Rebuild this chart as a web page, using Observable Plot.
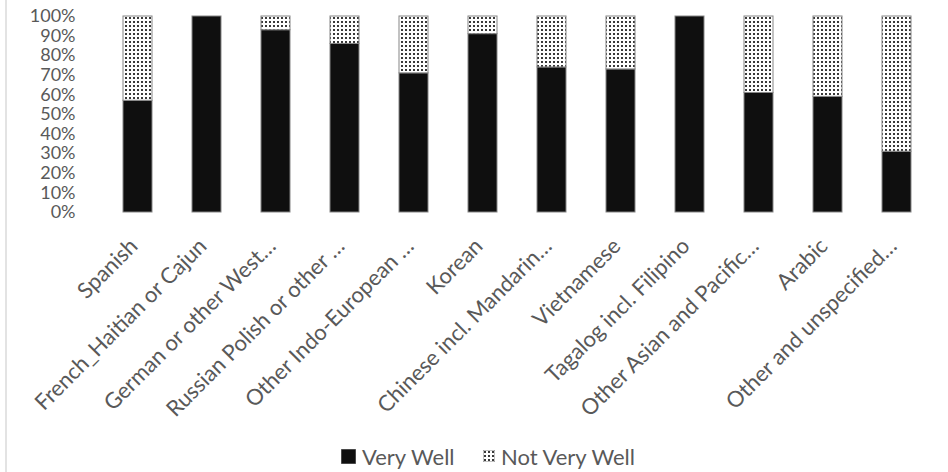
<!DOCTYPE html>
<html>
<head>
<meta charset="utf-8">
<script src="https://cdn.jsdelivr.net/npm/d3@7"></script>
<script src="https://cdn.jsdelivr.net/npm/@observablehq/plot@0.6"></script>
<style>
  html, body { margin: 0; padding: 0; background: #fff; }
  #wrap { position: relative; width: 948px; height: 472px; overflow: hidden; font-family: Lato, sans-serif; }
  #frame { position: absolute; left: 5px; top: 0; width: 2px; height: 472px; background: #e3e3e3; }
  #legend { position: absolute; top: 444px; left: 0; width: 948px; height: 26px; color: #595959; font-size: 22px; }
  #legend .item { position: absolute; top: 0; display: flex; align-items: center; height: 24px; }
  #legend svg { margin-right: 6px; }
</style>
</head>
<body>
<div id="wrap">
  <div id="frame"></div>
  <div id="chart"></div>
  <div id="legend"></div>
</div>
<script>
const categories = [
  "Spanish",
  "French_Haitian or Cajun",
  "German or other West…",
  "Russian Polish or other …",
  "Other Indo-European …",
  "Korean",
  "Chinese incl. Mandarin…",
  "Vietnamese",
  "Tagalog incl. Filipino",
  "Other Asian and Pacific…",
  "Arabic",
  "Other and unspecified…"
];
const veryWell    = [57, 100, 93, 86, 71, 91, 74, 73, 100, 61, 59, 31];
const notVeryWell = [43,   0,  7, 14, 29,  9, 26, 27,   0, 39, 41, 69];
const seriesNames = ["Very Well", "Not Very Well"];
const yTicks = [0, 0.1, 0.2, 0.3, 0.4, 0.5, 0.6, 0.7, 0.8, 0.9, 1];

const rows = categories.flatMap((c, i) => [
  {category: c, series: seriesNames[0], value: veryWell[i] / 100},
  {category: c, series: seriesNames[1], value: notVeryWell[i] / 100}
]);

const textColor = "#595959";

const svg = Plot.plot({
  width: 948,
  height: 436,
  marginTop: 16,
  marginBottom: 224,
  marginLeft: 99,
  marginRight: 14,
  style: {fontFamily: "Lato, sans-serif", fontSize: "20px", color: textColor, background: "transparent"},
  x: {domain: categories, paddingInner: 0.58, paddingOuter: 0.29, axis: null},
  y: {domain: [0, 1], axis: null},
  color: {domain: seriesNames, range: ["#0f0f0f", "url(#dots)"]},
  marks: [
    Plot.gridY(yTicks, {stroke: "#d9d9d9", strokeOpacity: 1, strokeWidth: 1.5, x1: 97, x2: 937}),
    Plot.axisY(yTicks, {
      tickSize: 0, tickPadding: 24, tickFormat: d3.format(".0%"),
      fill: textColor, fontSize: 18, label: null
    }),
    Plot.axisX({
      tickSize: 0, tickRotate: -45, tickPadding: 24,
      textAnchor: "end", lineAnchor: "top", dx: -10,
      fill: textColor, fontSize: 22, label: null
    }),
    Plot.barY(rows, {
      x: "category", y: "value", fill: "series", order: seriesNames,
      stroke: "#858585", strokeWidth: 1
    })
  ]
});

// dotted pattern definition
const ns = "http://www.w3.org/2000/svg";
function makeDefs(target) {
  const defs = document.createElementNS(ns, "defs");
  const pat = document.createElementNS(ns, "pattern");
  pat.setAttribute("id", "dots");
  pat.setAttribute("patternUnits", "userSpaceOnUse");
  pat.setAttribute("width", "4");
  pat.setAttribute("height", "4");
  const bg = document.createElementNS(ns, "rect");
  bg.setAttribute("width", "4"); bg.setAttribute("height", "4"); bg.setAttribute("fill", "#ffffff");
  const dot = document.createElementNS(ns, "rect");
  dot.setAttribute("x", "1"); dot.setAttribute("y", "1");
  dot.setAttribute("width", "2"); dot.setAttribute("height", "2"); dot.setAttribute("fill", "#3a3a3a");
  pat.appendChild(bg); pat.appendChild(dot);
  defs.appendChild(pat);
  target.insertBefore(defs, target.firstChild);
}
makeDefs(svg);
document.getElementById("chart").appendChild(svg);

// legend (below the plot)
const legend = document.getElementById("legend");
const legendPos = [341, 483];
const swatchSize = [15, 12];
seriesNames.forEach((name, i) => {
  const item = document.createElement("div");
  item.className = "item";
  item.style.left = legendPos[i] + "px";
  const sw = document.createElementNS(ns, "svg");
  sw.setAttribute("width", swatchSize[i]);
  sw.setAttribute("height", swatchSize[i]);
  const r = document.createElementNS(ns, "rect");
  r.setAttribute("width", swatchSize[i]); r.setAttribute("height", swatchSize[i]);
  r.setAttribute("fill", i === 0 ? "#0f0f0f" : "url(#dots)");
  r.setAttribute("stroke", "#858585");
  sw.appendChild(r);
  item.appendChild(sw);
  const t = document.createElement("span");
  t.textContent = name;
  item.appendChild(t);
  legend.appendChild(item);
});
</script>
</body>
</html>
